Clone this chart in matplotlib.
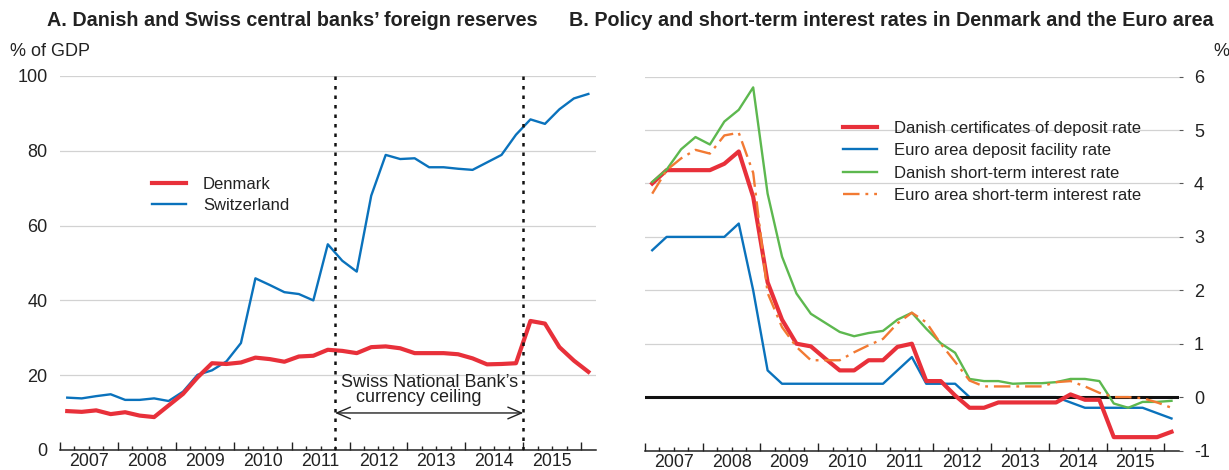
import matplotlib
matplotlib.use('Agg')
import matplotlib.pyplot as plt

plt.rcParams['font.family'] = ['Liberation Sans', 'DejaVu Sans']
plt.rcParams['axes.unicode_minus'] = False

# ---------------- data ----------------
quarters = [f"{y}Q{q}" for y in range(2007, 2017) for q in range(1, 5)][:37]

# Panel A: foreign reserves, % of GDP
denmark = [10.4, 10.2, 10.6, 9.6, 10.1, 9.2, 8.8, 11.9, 15.0, 19.4, 23.2, 23.0,
           23.4, 24.7, 24.3, 23.6, 25.0, 25.2, 26.8, 26.5, 25.9, 27.5, 27.7, 27.2,
           25.9, 25.9, 25.9, 25.6, 24.5, 22.9, 23.0, 23.2, 34.5, 33.8, 27.5, 23.9, 20.9]
switzerland = [14.0, 13.8, 14.4, 14.9, 13.4, 13.4, 13.8, 13.1, 15.6, 20.1, 21.3, 23.7,
               28.6, 45.9, 44.1, 42.2, 41.7, 40.0, 55.0, 50.6, 47.7, 68.0, 78.9, 77.8,
               78.0, 75.6, 75.6, 75.2, 74.9, 76.9, 78.9, 84.3, 88.4, 87.2, 91.1, 94.0, 95.2]

# Panel B: interest rates, %
dk_cd_rate = [4.0, 4.25, 4.25, 4.25, 4.25, 4.37, 4.6, 3.75, 2.15, 1.45, 1.0, 0.95,
              0.72, 0.5, 0.5, 0.69, 0.69, 0.94, 1.0, 0.3, 0.3, 0.03, -0.2, -0.2,
              -0.1, -0.1, -0.1, -0.1, -0.1, 0.05, -0.05, -0.05, -0.75, -0.75, -0.75, -0.75, -0.65]
euro_dfr = [2.75, 3.0, 3.0, 3.0, 3.0, 3.0, 3.25, 2.0, 0.5, 0.25, 0.25, 0.25,
            0.25, 0.25, 0.25, 0.25, 0.25, 0.5, 0.75, 0.25, 0.25, 0.25, 0.0, 0.0,
            0.0, 0.0, 0.0, 0.0, 0.0, -0.1, -0.2, -0.2, -0.2, -0.2, -0.2, -0.3, -0.4]
dk_short = [4.03, 4.26, 4.64, 4.87, 4.73, 5.16, 5.38, 5.8, 3.81, 2.63, 1.94, 1.56,
            1.39, 1.22, 1.14, 1.2, 1.24, 1.45, 1.58, 1.28, 1.01, 0.83, 0.34, 0.3,
            0.3, 0.25, 0.26, 0.26, 0.28, 0.34, 0.34, 0.3, -0.12, -0.2, -0.09, -0.09, -0.07]
euro_short = [3.81, 4.25, 4.47, 4.63, 4.56, 4.9, 4.95, 4.2, 1.95, 1.31, 0.94, 0.69,
              0.69, 0.69, 0.84, 0.97, 1.09, 1.38, 1.58, 1.4, 1.0, 0.66, 0.31, 0.2,
              0.2, 0.2, 0.2, 0.2, 0.28, 0.3, 0.2, 0.08, 0.0, 0.0, -0.02, -0.1, -0.2]

year_labels = ['2007', '2008', '2009', '2010', '2011', '2012', '2013', '2014', '2015']
ceiling_start, ceiling_end = 2011.75, 2015.0

t = [int(s[:4]) + (int(s[-1]) - 1) * 0.25 + 0.125 for s in quarters]

RED = '#E8303A'
BLUE = '#0A72BC'
GREEN = '#5DB84F'
ORANGE = '#F27A33'
GRID = '#D2D2D2'
INK = '#222222'

W, H = 1229, 470
fig = plt.figure(figsize=(W / 100, H / 100), dpi=100)


def px_rect(l, t_, r, b):
    return [l / W, 1 - b / H, (r - l) / W, (b - t_) / H]


def style_xaxis(ax):
    ax.set_xlim(2007, 2016.25)
    ax.set_xticks(range(2007, 2017))
    ax.set_xticks([y + q * 0.25 for y in range(2007, 2017) for q in (1, 2, 3)
                   if y + q * 0.25 < 2016.25], minor=True)
    ax.set_xticklabels([])
    ax.tick_params(axis='x', which='major', direction='in', length=6, width=1.0, color=INK)
    ax.tick_params(axis='x', which='minor', direction='in', length=3, width=1.0, color=INK)
    for s in ('top', 'left', 'right'):
        ax.spines[s].set_visible(False)
    ax.spines['bottom'].set_linewidth(1.1)
    ax.spines['bottom'].set_color(INK)
    for i, lab in enumerate(year_labels):
        ax.annotate(lab, xy=(2007 + i + 0.5, 0), xycoords=ax.get_xaxis_transform(),
                    xytext=(0, -2.5), textcoords='offset points', ha='center', va='top',
                    fontsize=12.8, color=INK, annotation_clip=False)


# ---------------- Panel A ----------------
axA = fig.add_axes(px_rect(60, 76, 595.6, 450))
style_xaxis(axA)
axA.set_ylim(0, 100)
axA.set_yticks([0, 20, 40, 60, 80, 100])
axA.set_yticklabels(['0', '20', '40', '60', '80', '100'], fontsize=13, color=INK)
axA.tick_params(axis='y', length=0, pad=9)
for v in (20, 40, 60, 80, 100):
    axA.axhline(v, color=GRID, lw=0.9, zorder=1)

l_ch = axA.plot(t, switzerland, color=BLUE, lw=1.7, zorder=3)[0]
l_dk = axA.plot(t, denmark, color=RED, lw=3.0, zorder=4)[0]
axA.vlines([ceiling_start, ceiling_end], 0, 100, colors='#111111', lw=1.8,
           linestyles=[(0, (1.4, 2.4))], zorder=5)
axA.annotate('', xy=(ceiling_start, 9.9), xytext=(ceiling_end, 9.9),
             arrowprops=dict(arrowstyle='<->,head_length=0.7,head_width=0.3',
                             color=INK, lw=1.0, shrinkA=0, shrinkB=0,
                             mutation_scale=14), zorder=5)
axA.text(2013.39, 18.0, 'Swiss National Bank\u2019s', ha='center', va='center',
         fontsize=13, color=INK, zorder=6)
axA.text(2013.19, 14.0, 'currency ceiling', ha='center', va='center',
         fontsize=13, color=INK, zorder=6)

legA = axA.legend([l_dk, l_ch], ['Denmark', 'Switzerland'], loc='upper left',
                  bbox_to_anchor=(152 / W, 1 - 177 / H), bbox_transform=fig.transFigure,
                  frameon=False, fontsize=12, handlelength=2.05, handletextpad=1.0,
                  labelspacing=0.38, borderpad=0, borderaxespad=0)
for txt in legA.get_texts():
    txt.set_color(INK)

# ---------------- Panel B ----------------
axB = fig.add_axes(px_rect(645, 76.7, 1178.7, 450.5))
style_xaxis(axB)
axB.set_ylim(-1, 6)
axB.yaxis.tick_right()
axB.set_yticks([-1, 0, 1, 2, 3, 4, 5, 6])
axB.set_yticklabels(['-1', '0', '1', '2', '3', '4', '5', '6'], fontsize=13, color=INK)
axB.tick_params(axis='y', which='major', direction='out', length=3, width=0.8,
                color='#555555', pad=8)
for v in (1, 2, 3, 4, 5, 6):
    axB.axhline(v, color=GRID, lw=0.9, zorder=1)

lb = axB.plot(t, euro_dfr, color=BLUE, lw=1.7, zorder=3)[0]
axB.axhline(0, color='#111111', lw=2.2, zorder=3.5)
lr = axB.plot(t, dk_cd_rate, color=RED, lw=3.0, zorder=4)[0]
lg = axB.plot(t, dk_short, color=GREEN, lw=1.7, zorder=4.2)[0]
lo = axB.plot(t, euro_short, color=ORANGE, lw=1.7, zorder=4.4,
              linestyle=(0, (7, 2.5, 1.2, 2.5)))[0]

legB = axB.legend([lr, lb, lg, lo],
                  ['Danish certificates of deposit rate', 'Euro area deposit facility rate',
                   'Danish short-term interest rate', 'Euro area short-term interest rate'],
                  loc='upper left', bbox_to_anchor=(843 / W, 1 - 121 / H),
                  bbox_transform=fig.transFigure, frameon=False, fontsize=12,
                  handlelength=2.05, handletextpad=1.0, labelspacing=0.44,
                  borderpad=0, borderaxespad=0)
for txt in legB.get_texts():
    txt.set_color(INK)

# ---------------- titles & unit labels ----------------
fig.text(292 / W, 1 - 20 / H, 'A. Danish and Swiss central banks\u2019 foreign reserves',
         ha='center', va='center', fontsize=14.2, fontweight='bold', color=INK)
fig.text(891 / W, 1 - 20 / H, 'B. Policy and short-term interest rates in Denmark and the Euro area',
         ha='center', va='center', fontsize=14.2, fontweight='bold', color=INK)
fig.text(10 / W, 1 - 52 / H, '% of GDP', ha='left', va='center', fontsize=13, color=INK)
fig.text(1213 / W, 1 - 52 / H, '%', ha='left', va='center', fontsize=13, color=INK)

fig.savefig('out.png', dpi=100)
